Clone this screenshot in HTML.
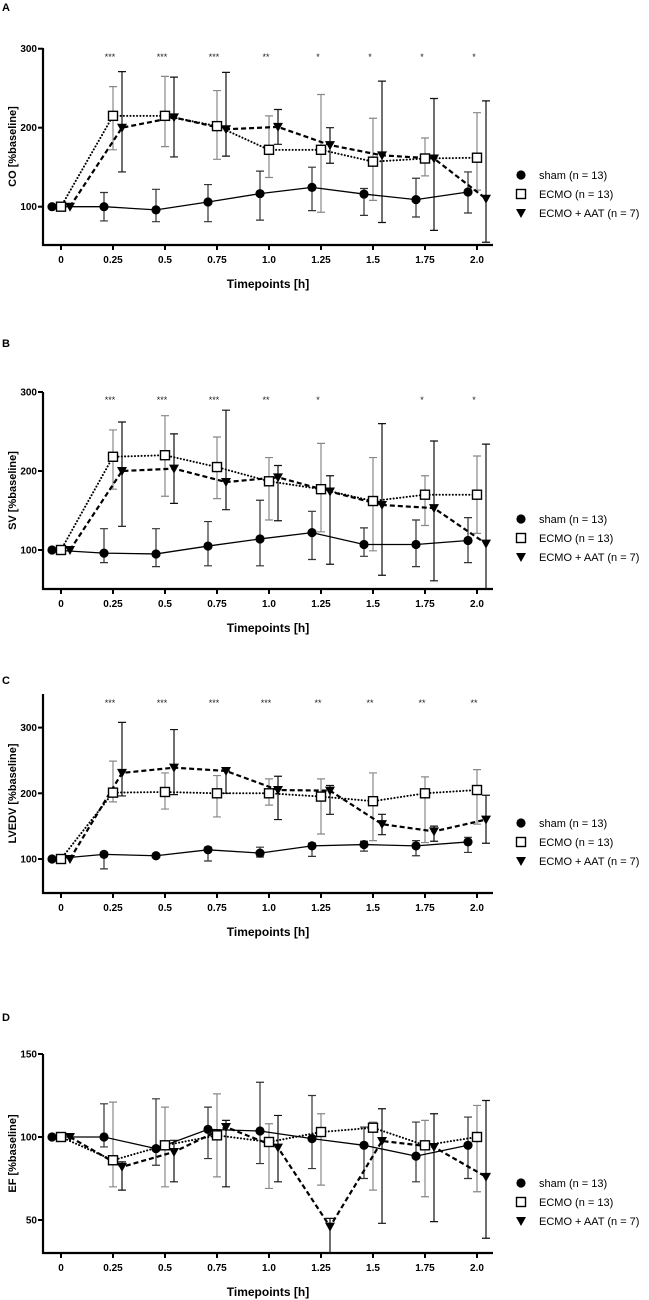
<!DOCTYPE html>
<html><head><meta charset="utf-8">
<style>
html,body{margin:0;padding:0;background:#fff;}
svg{display:block;font-family:"Liberation Sans",Arial,sans-serif;}
</style></head>
<body>
<svg id="chart" width="649" height="1300" viewBox="0 0 649 1300" xmlns="http://www.w3.org/2000/svg"></svg>
<script>
// ---- data ----
const timepoints = [0, 0.25, 0.5, 0.75, 1.0, 1.25, 1.5, 1.75, 2.0];
const xTickLabels = ["0","0.25","0.5","0.75","1.0","1.25","1.5","1.75","2.0"];
const seriesNames = ["sham (n = 13)", "ECMO (n = 13)", "ECMO + AAT (n = 7)"];

// Panel A - CO
const coShamMean = [100,100,96,106,116.5,124.5,116,109,118.6];
const coShamHi   = [100,118,122,128,145,150,123,136,144];
const coShamLo   = [100,82,81,81,83,95,89,87,92];
const coEcmoMean = [100,215,215,202,172,172,157,161,162];
const coEcmoHi   = [100,252,265,247,215,242,212,187,219];
const coEcmoLo   = [100,172,176,160,137,93,108,139,121];
const coAatMean  = [100,200,213,198,201,178,165,161,110];
const coAatHi    = [100,271,264,270,223,200,259,237,234];
const coAatLo    = [100,144,163,164,179,155,80,70,55];
const coStars    = ["","***","***","***","**","*","*","*","*"];

// Panel B - SV
const svShamMean = [100,96,95,105,114,122,107,107,112];
const svShamHi   = [100,127,127,136,163,149,128,138,141];
const svShamLo   = [100,84,79,80,80,88,92,79,84];
const svEcmoMean = [100,218,220,205,187,177,162,170,170];
const svEcmoHi   = [100,252,270,243,217,235,217,194,219];
const svEcmoLo   = [100,177,168,165,138,123,99,131,121];
const svAatMean  = [100,200,203,186,192,174,157,153,108];
const svAatHi    = [100,262,247,277,207,194,260,238,234];
const svAatLo    = [100,130,159,151,137,82,68,61,30];
const svStars    = ["","***","***","***","**","*","","*","*"];

// Panel C - LVEDV
const lvShamMean = [100,107,105,114,109,120,122,120,126];
const lvShamHi   = [100,110,107,118,118,124,127,128,133];
const lvShamLo   = [100,85,103,97,103,104,112,105,110];
const lvEcmoMean = [100,201,202,200,200,195,188,200,205];
const lvEcmoHi   = [100,249,231,227,222,222,231,225,236];
const lvEcmoLo   = [100,187,176,164,182,138,128,125,153];
const lvAatMean  = [100,231,239,234,205,204,153,142,160];
const lvAatHi    = [100,308,297,234,226,212,168,150,197];
const lvAatLo    = [100,196,198,200,160,168,137,127,124];
const lvStars    = ["","***","***","***","***","**","**","**","**"];

// Panel D - EF
const efShamMean = [100,100,93,104.6,103.6,99,95,88.5,95];
const efShamHi   = [100,120,123,118,133,125,106,109,112];
const efShamLo   = [100,94,83,87,84,81,75,73,75];
const efEcmoMean = [100,86,95,101,97,103,105.6,95,100];
const efEcmoHi   = [100,121,118,126,108,114,109,110,119];
const efEcmoLo   = [100,70,70,76,69,71,68,64,67];
const efAatMean  = [100,82,91,106,93.6,46,97.6,94,76];
const efAatHi    = [100,85,98,110,113,51,117,114,122];
const efAatLo    = [100,68,73,70,73,30,48,49,39];
const efStars    = ["","","","","","","","",""];

// ---- layout ----
const NS = "http://www.w3.org/2000/svg";
const svg = document.getElementById("chart");
function mk(tag, attrs, parent){
  const e = document.createElementNS(NS, tag);
  for (const k in attrs) e.setAttribute(k, attrs[k]);
  (parent||svg).appendChild(e);
  return e;
}
const X0 = 61, XPX = 208, AXL = 43, AXR = 493;
function xScale(t){ return X0 + t*XPX; }
const offsets = [-9, 0, 9];

const panels = [
  {key:"co", letter:"A", ytitle:"CO [%baseline]", y100:206.7, k:0.79, top:48, bottom:245, ticks:[100,200,300], starY:60, letterY:11,
   mean:[coShamMean,coEcmoMean,coAatMean], hi:[coShamHi,coEcmoHi,coAatHi], lo:[coShamLo,coEcmoLo,coAatLo], stars:coStars},
  {key:"sv", letter:"B", ytitle:"SV [%baseline]", y100:550, k:0.79, top:392, bottom:589, ticks:[100,200,300], starY:403, letterY:347,
   mean:[svShamMean,svEcmoMean,svAatMean], hi:[svShamHi,svEcmoHi,svAatHi], lo:[svShamLo,svEcmoLo,svAatLo], stars:svStars},
  {key:"lvedv", letter:"C", ytitle:"LVEDV [%baseline]", y100:859, k:0.657, top:694, bottom:893, ticks:[100,200,300], starY:706, letterY:684,
   mean:[lvShamMean,lvEcmoMean,lvAatMean], hi:[lvShamHi,lvEcmoHi,lvAatHi], lo:[lvShamLo,lvEcmoLo,lvAatLo], stars:lvStars},
  {key:"ef", letter:"D", ytitle:"EF [%baseline]", y100:1137, k:1.66, top:1054, bottom:1253, ticks:[50,100,150], starY:1060, letterY:1021,
   mean:[efShamMean,efEcmoMean,efAatMean], hi:[efShamHi,efEcmoHi,efAatHi], lo:[efShamLo,efEcmoLo,efAatLo], stars:efStars}
];

const lineStyles = [
  {stroke:"#000", width:1.3, dash:"", cap:"butt"},
  {stroke:"#000", width:2, dash:"0.1 3.2", cap:"round"},
  {stroke:"#000", width:2.2, dash:"5 3", cap:"butt"}
];
const errColors = ["#333", "#888", "#111"];

function marker(g, s, x, y, name){
  let m;
  if (s === 0) m = mk("circle", {cx:x, cy:y, r:4.6, fill:"#000"}, g);
  else if (s === 1) m = mk("rect", {x:x-4.5, y:y-4.5, width:9, height:9, fill:"#fff", stroke:"#000", "stroke-width":1.4}, g);
  else m = mk("path", {d:`M${x-5},${y-4} L${x+5},${y-4} L${x},${y+5} Z`, fill:"#000"}, g);
  
  
  return m;
}

panels.forEach(p => {
  const g = mk("g", {});
  
  
  const yS = v => p.y100 - (v - 100) * p.k;

  const lt = mk("text", {x:2, y:p.letterY, "font-size":11, "font-weight":"bold"}, g);
  lt.textContent = p.letter;
  
  

  // axes
  const ya = mk("line", {x1:AXL, y1:p.top, x2:AXL, y2:p.bottom+1, stroke:"#000", "stroke-width":2.2}, g);
  
  
  const xa = mk("line", {x1:AXL-1, y1:p.bottom, x2:AXR, y2:p.bottom, stroke:"#000", "stroke-width":2.2}, g);
  
  

  p.ticks.forEach(v => {
    const y = yS(v);
    mk("line", {x1:AXL-5, y1:y, x2:AXL, y2:y, stroke:"#000", "stroke-width":2}, g);
    const t = mk("text", {x:AXL-6, y:y+3.5, "font-size":10, "font-weight":"bold", "text-anchor":"end"}, g);
    t.textContent = v;
    
    
  });
  timepoints.forEach((tp, i) => {
    const x = xScale(tp);
    mk("line", {x1:x, y1:p.bottom, x2:x, y2:p.bottom+5, stroke:"#000", "stroke-width":2}, g);
    const t = mk("text", {x:x, y:p.bottom+18, "font-size":10, "font-weight":"bold", "text-anchor":"middle"}, g);
    t.textContent = xTickLabels[i];
    
    
    if (p.stars[i]) {
      const s = mk("text", {x:x-3, y:p.starY, "font-size":9, "text-anchor":"middle", fill:"#222"}, g);
      s.textContent = p.stars[i];
      
      
    }
  });
  const xt = mk("text", {x:268, y:p.bottom+43, "font-size":12, "font-weight":"bold", "text-anchor":"middle"}, g);
  xt.textContent = "Timepoints [h]";
  
  
  const cy = (p.top + p.bottom)/2;
  const yt = mk("text", {x:16, y:cy, "font-size":11, "font-weight":"bold", "text-anchor":"middle", transform:`rotate(-90 16 ${cy})`}, g);
  yt.textContent = p.ytitle;
  
  

  // error bars
  for (let s = 0; s < 3; s++) {
    timepoints.forEach((tp, i) => {
      if (i === 0) return;
      const x = xScale(tp) + offsets[s];
      const yh = yS(p.hi[s][i]);
      const yl = Math.min(yS(p.lo[s][i]), p.bottom);
      const eb = mk("path", {d:`M${x},${yh} L${x},${yl} M${x-4},${yh} L${x+4},${yh}` + (yl < p.bottom ? ` M${x-4},${yl} L${x+4},${yl}` : ""), stroke:errColors[s], "stroke-width":1.2, fill:"none"}, g);
      
      
    });
  }
  // lines
  for (let s = 0; s < 3; s++) {
    const pts = timepoints.map((tp, i) => `${xScale(tp)+offsets[s]},${yS(p.mean[s][i])}`).join(" ");
    const st = lineStyles[s];
    const pl = mk("polyline", {points:pts, fill:"none", stroke:st.stroke, "stroke-width":st.width, "stroke-dasharray":st.dash, "stroke-linecap":st.cap}, g);
    
    
  }
  // markers
  for (let s = 0; s < 3; s++) {
    timepoints.forEach((tp, i) => {
      marker(g, s, xScale(tp)+offsets[s], yS(p.mean[s][i]), 'data-point');
    });
  }
  // legend
  for (let s = 0; s < 3; s++) {
    const ly = p.bottom - 70 + s*19;
    marker(g, s, 521, ly, 'legend-marker');
    const t = mk("text", {x:539, y:ly+4, "font-size":11}, g);
    t.textContent = seriesNames[s];
    
    
  }
});
</script>
</body></html>
